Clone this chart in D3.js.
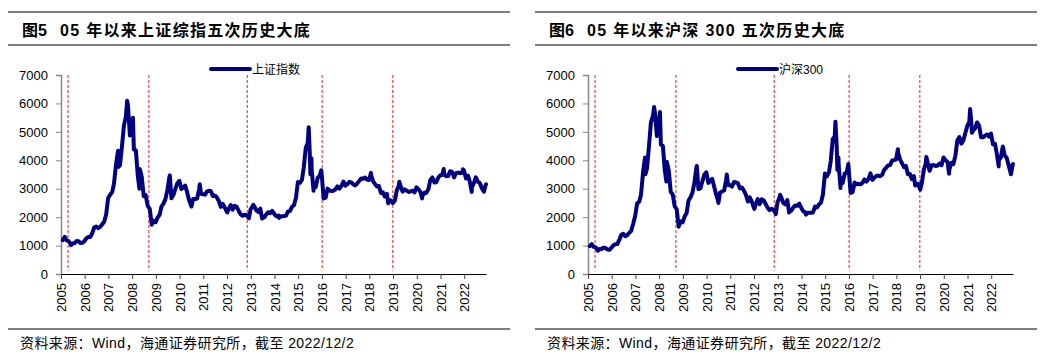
<!DOCTYPE html>
<html>
<head>
<meta charset="utf-8">
<script src="https://cdn.jsdelivr.net/npm/d3@7"></script>
<style>
  body { margin: 0; background: #fff; }
  svg text { font-family: "Liberation Sans", Arial, sans-serif; }
  .cjk { font-family: "Liberation Sans", "Noto Sans CJK SC", sans-serif; }
</style>
</head>
<body>
<div id="chart"></div>
<script>
const width = 1060;
const height = 360;

// month entries ("YYYY-MM") are month-end closes, full dates are weekly highs/lows
const sse = [
  ["2005-01",1191],["2005-02",1306],["2005-03",1181],["2005-04",1159],["2005-05",1060],["2005-06-03",1013],["2005-06",1080],["2005-07",1083],["2005-08",1162],["2005-09",1155],["2005-10",1092],["2005-11",1099],["2005-12",1161],
  ["2006-01",1258],["2006-02",1299],["2006-03",1298],["2006-04",1440],["2006-05",1641],["2006-06",1672],["2006-07",1612],["2006-08",1658],["2006-09",1752],["2006-10",1837],["2006-11",2099],["2006-12",2675],
  ["2007-01",2786],["2007-02",2881],["2007-03",3183],["2007-04",3841],["2007-05-29",4335],["2007-06-05",3767],["2007-06",3820],["2007-07",4471],["2007-08",5218],["2007-09",5552],["2007-10-16",6092],["2007-10",5954],["2007-11",4871],["2007-12",5262],
  ["2008-01-14",5497],["2008-01",4383],["2008-02",4348],["2008-03",3473],["2008-04-22",3000],["2008-04",3693],["2008-05",3433],["2008-06",2736],["2008-07",2775],["2008-08",2397],["2008-09",2293],["2008-10-28",1771],["2008-10",1729],["2008-11",1871],["2008-12",1821],
  ["2009-01",1991],["2009-02",2082],["2009-03",2373],["2009-04",2477],["2009-05",2633],["2009-06",2959],["2009-07",3412],["2009-08-04",3471],["2009-08",2668],["2009-09",2779],["2009-10",2996],["2009-11",3195],["2009-12",3277],
  ["2010-01",2989],["2010-02",3052],["2010-03",3110],["2010-04",2870],["2010-05",2592],["2010-06",2398],["2010-07-02",2373],["2010-07",2638],["2010-08",2639],["2010-09",2656],["2010-10",2979],["2010-11-08",3159],["2010-11",2820],["2010-12",2808],
  ["2011-01",2790],["2011-02",2905],["2011-03",2928],["2011-04",2911],["2011-05",2743],["2011-06",2762],["2011-07",2701],["2011-08",2568],["2011-09",2359],["2011-10",2468],["2011-11",2333],["2011-12",2199],
  ["2012-01-06",2163],["2012-01",2292],["2012-02",2428],["2012-03",2263],["2012-04",2397],["2012-05",2373],["2012-06",2225],["2012-07",2103],["2012-08",2047],["2012-09",2086],["2012-10",2069],["2012-11",1980],["2012-12-03",1959],["2012-12",2269],
  ["2013-01",2385],["2013-02-08",2432],["2013-02",2366],["2013-03",2237],["2013-04",2178],["2013-05",2301],["2013-06-25",1950],["2013-06",1979],["2013-07",1994],["2013-08",2098],["2013-09",2175],["2013-10",2142],["2013-11",2220],["2013-12",2116],
  ["2014-01",2033],["2014-02",2056],["2014-03-12",1974],["2014-03",2033],["2014-04",2026],["2014-05",2039],["2014-06",2048],["2014-07",2202],["2014-08",2217],["2014-09",2364],["2014-10",2420],["2014-11",2683],["2014-12",3235],
  ["2015-01",3210],["2015-02",3310],["2015-03",3748],["2015-04",4442],["2015-05",4612],["2015-06-12",5166],["2015-06",4277],["2015-07-08",3507],["2015-07-24",4070],["2015-07",3664],["2015-08-26",2927],["2015-08",3206],["2015-09",3053],["2015-10",3383],["2015-11",3446],["2015-12-22",3651],["2015-12",3539],
  ["2016-01-28",2656],["2016-01",2738],["2016-02",2688],["2016-03",3004],["2016-04",2938],["2016-05",2917],["2016-06",2930],["2016-07",2979],["2016-08",3085],["2016-09",3005],["2016-10",3100],["2016-11",3250],["2016-12",3104],
  ["2017-01",3159],["2017-02",3242],["2017-03",3223],["2017-04",3155],["2017-05",3117],["2017-06",3192],["2017-07",3273],["2017-08",3361],["2017-09",3349],["2017-10",3393],["2017-11",3317],["2017-12",3307],
  ["2018-01-26",3558],["2018-01",3481],["2018-02",3259],["2018-03",3169],["2018-04",3082],["2018-05",3095],["2018-06",2847],["2018-07",2876],["2018-08",2725],["2018-09",2821],["2018-10-18",2486],["2018-10",2603],["2018-11",2588],["2018-12",2494],
  ["2019-01-04",2514],["2019-01",2585],["2019-02",2941],["2019-03",3091],["2019-04-08",3247],["2019-04",3078],["2019-05",2899],["2019-06",2979],["2019-07",2933],["2019-08",2886],["2019-09",2905],["2019-10",2929],["2019-11",2872],["2019-12",3050],
  ["2020-01",2977],["2020-02",2880],["2020-03-23",2660],["2020-03",2750],["2020-04",2860],["2020-05",2852],["2020-06",2985],["2020-07",3310],["2020-08",3396],["2020-09",3218],["2020-10",3225],["2020-11",3392],["2020-12",3473],
  ["2021-01",3483],["2021-02-18",3696],["2021-02",3509],["2021-03",3442],["2021-04",3447],["2021-05",3615],["2021-06",3591],["2021-07",3397],["2021-08",3544],["2021-09",3568],["2021-10",3547],["2021-11",3564],["2021-12-13",3681],["2021-12",3640],
  ["2022-01",3361],["2022-02",3462],["2022-03",3252],["2022-04-26",2886],["2022-04",3047],["2022-05",3186],["2022-06",3399],["2022-07",3253],["2022-08",3202],["2022-09",3024],["2022-10-31",2893],["2022-11",3151],["2022-12-02",3156]
];

const csi300 = [
  ["2005-01",982],["2005-02",1052],["2005-03",955],["2005-04",938],["2005-05",859],["2005-06-03",818],["2005-06",878],["2005-07",876],["2005-08",929],["2005-09",915],["2005-10",862],["2005-11",853],["2005-12",924],
  ["2006-01",1010],["2006-02",1049],["2006-03",1055],["2006-04",1198],["2006-05",1378],["2006-06",1412],["2006-07",1333],["2006-08",1368],["2006-09",1449],["2006-10",1521],["2006-11",1770],["2006-12",2041],
  ["2007-01",2485],["2007-02",2543],["2007-03",2781],["2007-04",3567],["2007-05-29",4100],["2007-06-05",3510],["2007-06",3710],["2007-07",4472],["2007-08",5338],["2007-09",5552],["2007-10-16",5877],["2007-10",5688],["2007-11",4852],["2007-12",5338],
  ["2008-01-14",5697],["2008-01",4556],["2008-02",4508],["2008-03",3655],["2008-04-22",3250],["2008-04",3947],["2008-05",3663],["2008-06",2885],["2008-07",2806],["2008-08",2377],["2008-09",2281],["2008-10-28",1665],["2008-10",1665],["2008-11",1855],["2008-12",1817],
  ["2009-01",2021],["2009-02",2148],["2009-03",2575],["2009-04",2696],["2009-05",2857],["2009-06",3227],["2009-07",3736],["2009-08-04",3803],["2009-08",2986],["2009-09",3011],["2009-10",3260],["2009-11",3495],["2009-12",3575],
  ["2010-01",3205],["2010-02",3281],["2010-03",3346],["2010-04",3068],["2010-05",2797],["2010-06",2563],["2010-07-02",2500],["2010-07",2868],["2010-08",2903],["2010-09",2936],["2010-10",3296],["2010-11-08",3500],["2010-11",3130],["2010-12",3128],
  ["2011-01",3077],["2011-02",3239],["2011-03",3223],["2011-04",3197],["2011-05",3013],["2011-06",3044],["2011-07",2939],["2011-08",2795],["2011-09",2549],["2011-10",2695],["2011-11",2545],["2011-12",2346],
  ["2012-01-06",2290],["2012-01",2464],["2012-02",2635],["2012-03",2455],["2012-04",2626],["2012-05",2593],["2012-06",2462],["2012-07",2334],["2012-08",2247],["2012-09",2294],["2012-10",2254],["2012-11",2139],["2012-12-03",2108],["2012-12",2523],
  ["2013-01",2685],["2013-02-06",2790],["2013-02",2673],["2013-03",2495],["2013-04",2448],["2013-05",2604],["2013-06-25",2160],["2013-06",2210],["2013-07",2222],["2013-08",2338],["2013-09",2409],["2013-10",2397],["2013-11",2478],["2013-12",2331],
  ["2014-01",2202],["2014-02",2178],["2014-03-12",2090],["2014-03",2146],["2014-04",2158],["2014-05",2158],["2014-06",2165],["2014-07",2370],["2014-08",2339],["2014-09",2451],["2014-10",2508],["2014-11",2808],["2014-12",3533],
  ["2015-01",3434],["2015-02",3572],["2015-03",3986],["2015-04",4749],["2015-05",4840],["2015-06-08",5353],["2015-06",4473],["2015-07-08",3663],["2015-07-24",4100],["2015-07",3816],["2015-08-26",3025],["2015-08",3366],["2015-09",3203],["2015-10",3534],["2015-11",3566],["2015-12-23",3868],["2015-12",3731],
  ["2016-01-28",2853],["2016-01",2946],["2016-02",2878],["2016-03",3218],["2016-04",3156],["2016-05",3169],["2016-06",3154],["2016-07",3203],["2016-08",3327],["2016-09",3253],["2016-10",3336],["2016-11",3538],["2016-12",3310],
  ["2017-01",3387],["2017-02",3452],["2017-03",3456],["2017-04",3439],["2017-05",3492],["2017-06",3666],["2017-07",3737],["2017-08",3822],["2017-09",3837],["2017-10",3993],["2017-11",4006],["2017-12",4031],
  ["2018-01-24",4389],["2018-01",4275],["2018-02",4023],["2018-03",3899],["2018-04",3756],["2018-05",3802],["2018-06",3510],["2018-07",3517],["2018-08",3335],["2018-09",3439],["2018-10-18",3110],["2018-10",3154],["2018-11",3173],["2018-12",3011],
  ["2019-01-03",2965],["2019-01",3202],["2019-02",3669],["2019-03",3872],["2019-04-08",4120],["2019-04",3913],["2019-05",3630],["2019-06",3826],["2019-07",3836],["2019-08",3799],["2019-09",3814],["2019-10",3887],["2019-11",3828],["2019-12",4097],
  ["2020-01",4003],["2020-02",3940],["2020-03-23",3530],["2020-03",3686],["2020-04",3912],["2020-05",3867],["2020-06",4164],["2020-07",4695],["2020-08",4816],["2020-09",4587],["2020-10",4695],["2020-11",4960],["2020-12",5211],
  ["2021-01",5352],["2021-02-10",5807],["2021-02",5336],["2021-03-09",4970],["2021-03",5048],["2021-04",5123],["2021-05",5331],["2021-06",5224],["2021-07",4812],["2021-08",4806],["2021-09",4866],["2021-10",4908],["2021-11",4832],["2021-12",4940],
  ["2022-01",4563],["2022-02",4581],["2022-03",4222],["2022-04-26",3785],["2022-04",4016],["2022-05",4091],["2022-06",4485],["2022-07",4170],["2022-08",4079],["2022-09",3805],["2022-10-31",3508],["2022-11",3854],["2022-12-02",3870]
];

// the five historical bottoms marked with red dashed lines
const bottoms = ["2005-04-20", "2008-09-15", "2012-11-08", "2016-01-05", "2018-12-28"];
const yTicks = [0, 1000, 2000, 3000, 4000, 5000, 6000, 7000];
const startDate = "2005-01-01";
const endDate = "2022-12-02";

const parseDay = d3.timeParse("%Y-%m-%d");
const parseMonth = d3.timeParse("%Y-%m");
function toDate(s) {
  if (s.length === 10) return parseDay(s);
  return d3.timeDay.offset(parseMonth(s), 27);
}

const svg = d3.select("#chart").append("svg")
  .attr("width", width)
  .attr("height", height);

const panels = [
  { dx: 0, fig: "图5", title: "05 年以来上证综指五次历史大底", legend: "上证指数", data: sse },
  { dx: 527, fig: "图6", title: "05 年以来沪深 300 五次历史大底", legend: "沪深300", data: csi300 }
];

panels.forEach(p => {
  const g = svg.append("g").attr("transform", `translate(${p.dx},0)`);

  // title bar
  g.append("line").attr("x1", 8).attr("x2", 510).attr("y1", 12).attr("y2", 12)
    .attr("stroke", "#000").attr("stroke-width", 1);
  g.append("line").attr("x1", 8).attr("x2", 510).attr("y1", 45).attr("y2", 45)
    .attr("stroke", "#000").attr("stroke-width", 1);
  g.append("text").attr("class", "cjk")
    .attr("x", 22).attr("y", 36)
    .attr("font-size", 16).attr("font-weight", "bold")
    .text(p.fig);
  g.append("text").attr("class", "cjk")
    .attr("x", 60).attr("y", 36)
    .attr("font-size", 16).attr("font-weight", "bold")
    .attr("letter-spacing", 1.3)
    .text(p.title);

  const x = d3.scaleTime()
    .domain([toDate(startDate), toDate(endDate)])
    .range([61, 486]);
  const y = d3.scaleLinear().domain([0, 7000]).range([274, 75]);

  // y axis
  const yAxis = g.append("g").attr("transform", "translate(61,0)")
    .call(d3.axisLeft(y).tickValues(yTicks).tickSize(5).tickPadding(8).tickFormat(d3.format("d")));
  yAxis.select(".domain").attr("stroke", "#888").attr("stroke-width", 1.5);
  yAxis.selectAll(".tick line").attr("stroke", "#888");
  yAxis.selectAll("text").attr("font-size", 13).attr("fill", "#000")
    .style("font-family", "'Liberation Sans', Arial, sans-serif");

  // x axis
  const xAxis = g.append("g").attr("transform", "translate(0,274)")
    .call(d3.axisBottom(x).ticks(d3.timeYear.every(1)).tickSize(5).tickSizeOuter(0)
      .tickFormat(d3.timeFormat("%Y")));
  xAxis.select(".domain").attr("stroke", "#000").attr("stroke-width", 1.2);
  xAxis.selectAll(".tick line").attr("stroke", "#444");
  xAxis.selectAll("text")
    .attr("font-size", 13).attr("fill", "#000")
    .style("font-family", "'Liberation Sans', Arial, sans-serif")
    .attr("x", -9).attr("y", 0).attr("dy", "0.35em")
    .attr("transform", "rotate(-90)")
    .attr("text-anchor", "end");

  // bottom markers
  g.selectAll(".bottom")
    .data(bottoms)
    .enter().append("line")
    .attr("class", "bottom")
    .attr("x1", d => x(toDate(d))).attr("x2", d => x(toDate(d)))
    .attr("y1", y(7000)).attr("y2", y(120))
    .attr("stroke", "#ff3b3b").attr("stroke-width", 1.2)
    .attr("stroke-dasharray", "3,2");

  // index line
  const line = d3.line()
    .x(d => x(toDate(d[0])))
    .y(d => y(d[1]));
  g.append("path")
    .datum(p.data)
    .attr("d", line)
    .attr("fill", "none")
    .attr("stroke", "#000080")
    .attr("stroke-width", 4)
    .attr("stroke-linejoin", "round")
    .attr("stroke-linecap", "round");

  // legend
  g.append("line").attr("x1", 211).attr("x2", 250).attr("y1", 69).attr("y2", 69)
    .attr("stroke", "#000080").attr("stroke-width", 4).attr("stroke-linecap", "round");
  g.append("text").attr("class", "cjk")
    .attr("x", 252).attr("y", 73.5)
    .attr("font-size", 12)
    .text(p.legend);

  // source
  g.append("line").attr("x1", 8).attr("x2", 510).attr("y1", 329).attr("y2", 329)
    .attr("stroke", "#000").attr("stroke-width", 1);
  g.append("text").attr("class", "cjk")
    .attr("x", 20).attr("y", 348)
    .attr("font-size", 14)
    .attr("letter-spacing", 0.4)
    .text("资料来源：Wind，海通证券研究所，截至 2022/12/2");
});
</script>
</body>
</html>
